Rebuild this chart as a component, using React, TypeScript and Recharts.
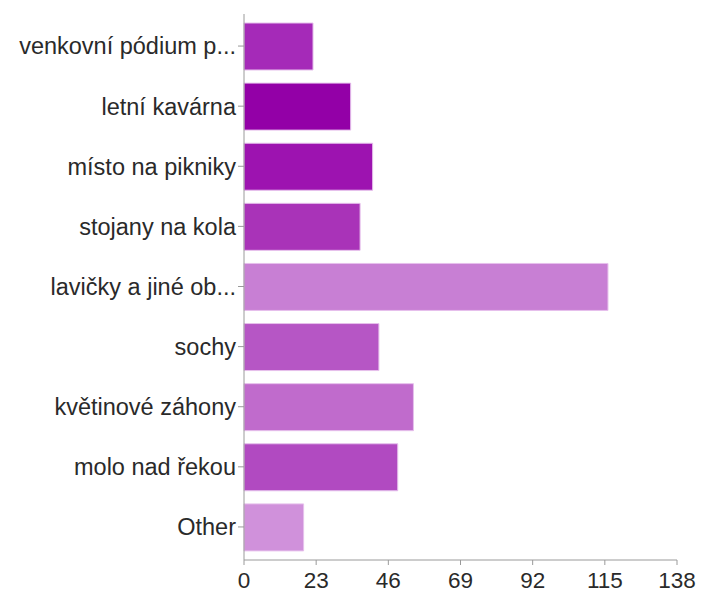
import React from 'react';
import { BarChart, Bar, XAxis, YAxis, Cell } from 'recharts';

// categories and counts, top to bottom
const categories = [
    'venkovní pódium p...',
    'letní kavárna',
    'místo na pikniky',
    'stojany na kola',
    'lavičky a jiné ob...',
    'sochy',
    'květinové záhony',
    'molo nad řekou',
    'Other'
];
const counts = [22, 34, 41, 37, 116, 43, 54, 49, 19];
const xTicks = [0, 23, 46, 69, 92, 115, 138];

// bar fills, same order as categories
const barColors = [
    '#a52ab8',
    '#9300a7',
    '#9d13b0',
    '#a933b8',
    '#c87fd4',
    '#b656c5',
    '#c06bcc',
    '#b14ac1',
    '#d091db'
];

const data = categories.map((name, i) => ({ name, count: counts[i] }));

const font = '"Liberation Sans", Arial, sans-serif';

const App: React.FC = () => {
    return (
        <div style={{ position: 'absolute', left: 0, top: 0, background: '#fff' }}>
            <BarChart
                width={701}
                height={592}
                data={data}
                layout="vertical"
                margin={{ top: 14, right: 24, left: 0, bottom: 0 }}
            >
                <XAxis
                    type="number"
                    domain={[0, 138]}
                    ticks={xTicks}
                    interval={0}
                    height={32}
                    tickSize={5}
                    tickMargin={7}
                    stroke="#9a9a9a"
                    tick={{ fill: '#2a2a2a', fontSize: 22.5, fontFamily: font }}
                />
                <YAxis
                    type="category"
                    dataKey="name"
                    width={244}
                    interval={0}
                    tickSize={6}
                    tickMargin={2}
                    padding={{ top: 2, bottom: 3 }}
                    stroke="#9a9a9a"
                    tick={{ fill: '#2a2a2a', fontSize: 23.5, fontFamily: font }}
                />
                <Bar dataKey="count" barSize={47} stroke="#e6c0ec" strokeWidth={1} isAnimationActive={false}>
                    {data.map((entry, index) => (
                        <Cell key={`cell-${index}`} fill={barColors[index]} />
                    ))}
                </Bar>
            </BarChart>
        </div>
    );
};

export default App;
